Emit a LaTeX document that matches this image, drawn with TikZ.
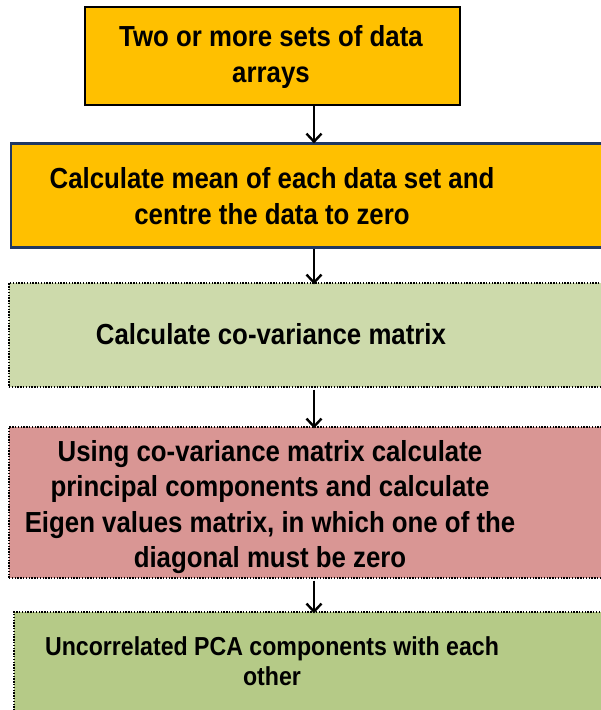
\documentclass[tikz,border=0pt]{standalone}
\usepackage{fontspec}
\setmainfont{Liberation Sans}[FakeStretch=0.89]
\usepackage{xcolor}
\usetikzlibrary{arrows.meta, positioning, calc}

\definecolor{boxOrange}{HTML}{FFC000}
\definecolor{boxNavy}{HTML}{1F3864}
\definecolor{boxSage}{HTML}{CDDAAB}
\definecolor{boxRose}{HTML}{D99694}
\definecolor{boxOlive}{HTML}{B5CA87}

\tikzset{
  boxO/.style   = {rectangle, draw=black, line width=2.6pt, fill=boxOrange, inner sep=0pt},
  boxN/.style   = {rectangle, draw=boxNavy, line width=2.2pt, fill=boxOrange, inner sep=0pt},
  boxS/.style   = {rectangle, draw=black, line width=1.3pt, dash pattern=on 1.4pt off 1.4pt,
                   fill=boxSage, inner sep=0pt},
  boxR/.style   = {rectangle, draw=black, line width=1.3pt, dash pattern=on 1.4pt off 1.4pt,
                   fill=boxRose, inner sep=0pt},
  boxG/.style   = {rectangle, draw=black, line width=1.3pt, dash pattern=on 1.4pt off 1.4pt,
                   fill=boxOlive, inner sep=0pt},
  txt/.style    = {align=center, inner sep=0pt, font=\bfseries\fontsize{29}{35.5}\selectfont},
  txtS/.style   = {align=center, inner sep=0pt, font=\bfseries\fontsize{26}{30}\selectfont},
  arrow/.style  = {line width=2.4pt, -{Straight Barb[length=8pt, width=15pt]}},
}

\begin{document}
\begin{tikzpicture}[x=1pt, y=-1pt]

    \useasboundingbox (0,0) rectangle (601,710);

    %% ===================== BOXES =====================
    \node[boxO, minimum width=375, minimum height=98]  (data) at (272.5, 56)  {};
    \node[boxN, minimum width=606, minimum height=104] (mean) at (314, 195.5) {};
    \node[boxS, minimum width=610, minimum height=104] (cov)  at (314, 335)   {};
    \node[boxR, minimum width=610, minimum height=151] (eig)  at (314, 502.5) {};
    \node[boxG, minimum width=600, minimum height=100] (pca)  at (314, 662)   {};

    %% ===================== TEXTS =====================
    \node[txt]  (dataT) at (271, 57)   {Two or more sets of data\\arrays};
    \node[txt]  (meanT) at (272, 196)  {Calculate mean of each data set and\\centre the data to zero};
    \node[txt]  (covT)  at (271, 334)  {Calculate co-variance matrix};
    \node[txt]  (eigT)  at (270, 507)  {Using co-variance matrix calculate\\principal components and calculate\\Eigen values matrix, in which one of the\\diagonal must be zero};
    \node[txtS] (pcaT)  at (272, 661)  {Uncorrelated PCA components with each\\other};

    %% ===================== ARROWS =====================
    \draw[arrow] (data.south -| mean.north) -- ([yshift=-1]mean.north);
    \draw[arrow] (mean.south) -- ([yshift=-2]cov.north);
    \draw[arrow, shorten <=2] (cov.south) -- ([yshift=-2]eig.north);
    \draw[arrow, shorten <=2] (eig.south) -- ([yshift=-2]pca.north);

\end{tikzpicture}
\end{document}
